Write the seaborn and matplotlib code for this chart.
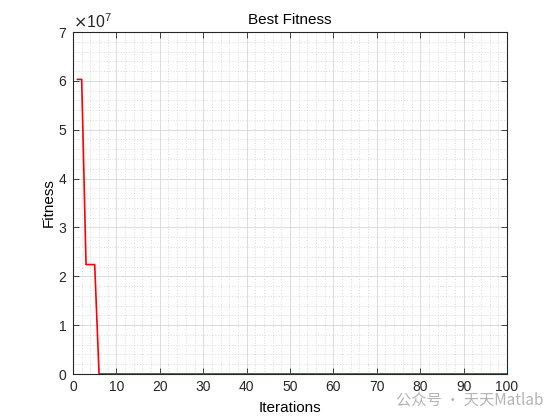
import matplotlib
matplotlib.use("Agg")
import matplotlib.pyplot as plt
import seaborn as sns
import numpy as np
import pandas as pd
from matplotlib.ticker import MultipleLocator, ScalarFormatter

iterations = list(range(1, 101))
best_fitness = [
    6.03e7, 6.03e7, 2.24e7, 2.24e7, 2.24e7, 1.0e4, 1.0e4, 1.0e4, 1.0e4, 1.0e4,
    1.0e4, 1.0e4, 1.0e4, 1.0e4, 1.0e4, 1.0e4, 1.0e4, 1.0e4, 1.0e4, 1.0e4,
    1.0e4, 1.0e4, 1.0e4, 1.0e4, 1.0e4, 1.0e4, 1.0e4, 1.0e4, 1.0e4, 1.0e4,
    1.0e4, 1.0e4, 1.0e4, 1.0e4, 1.0e4, 1.0e4, 1.0e4, 1.0e4, 1.0e4, 1.0e4,
    1.0e4, 1.0e4, 1.0e4, 1.0e4, 1.0e4, 1.0e4, 1.0e4, 1.0e4, 1.0e4, 1.0e4,
    1.0e4, 1.0e4, 1.0e4, 1.0e4, 1.0e4, 1.0e4, 1.0e4, 1.0e4, 1.0e4, 1.0e4,
    1.0e4, 1.0e4, 1.0e4, 1.0e4, 1.0e4, 1.0e4, 1.0e4, 1.0e4, 1.0e4, 1.0e4,
    1.0e4, 1.0e4, 1.0e4, 1.0e4, 1.0e4, 1.0e4, 1.0e4, 1.0e4, 1.0e4, 1.0e4,
    1.0e4, 1.0e4, 1.0e4, 1.0e4, 1.0e4, 1.0e4, 1.0e4, 1.0e4, 1.0e4, 1.0e4,
    1.0e4, 1.0e4, 1.0e4, 1.0e4, 1.0e4, 1.0e4, 1.0e4, 1.0e4, 1.0e4, 1.0e4,
]

df = pd.DataFrame({"Iterations": iterations, "Fitness": best_fitness})

sns.set_theme(style="white")
plt.rcParams["font.family"] = ["Liberation Sans", "DejaVu Sans"]

fig = plt.figure(figsize=(5.6, 4.2), dpi=100)
ax = fig.add_axes([73/560, 46/420, 434/560, 342/420])

sns.lineplot(data=df, x="Iterations", y="Fitness", color="red", linewidth=1.2, ax=ax)

ax.set_xlim(0, 100)
ax.set_ylim(0, 7e7)
ax.xaxis.set_major_locator(MultipleLocator(10))
ax.xaxis.set_minor_locator(MultipleLocator(2))
ax.yaxis.set_major_locator(MultipleLocator(1e7))
ax.yaxis.set_minor_locator(MultipleLocator(0.2e7))

fmt = ScalarFormatter(useMathText=True)
fmt.set_powerlimits((0, 0))
ax.yaxis.set_major_formatter(fmt)

ax.grid(which="major", color="#d6d6d6", linewidth=0.6, linestyle="-")
ax.grid(which="minor", color="#cfcfcf", linewidth=0.5, linestyle=(0, (1.5, 2.5)))
ax.set_axisbelow(True)

for s in ax.spines.values():
    s.set_color("#262626")
    s.set_linewidth(0.8)
    s.set_visible(True)

ax.tick_params(which="major", direction="in", length=4, width=0.6, top=True, right=True,
               labelsize=10, colors="#262626", bottom=True, left=True, pad=4)
ax.tick_params(which="minor", length=0, top=False, right=False)
ax.yaxis.get_offset_text().set_fontsize(11.5)
ax.yaxis.get_offset_text().set_color("#262626")

ax.set_title("Best Fitness", fontsize=11, color="black", pad=6)
ax.set_xlabel("Iterations", fontsize=11, color="black", labelpad=5)
ax.set_ylabel("Fitness", fontsize=11, color="black", labelpad=2)

fig.text(0.97, 0.048, "公众号 · 天天Matlab", ha="right", va="center", fontsize=11,
         color="#b4b4b4", family=["Noto Sans CJK SC", "DejaVu Sans"])

fig.savefig("out.png", dpi=100, facecolor="white")
